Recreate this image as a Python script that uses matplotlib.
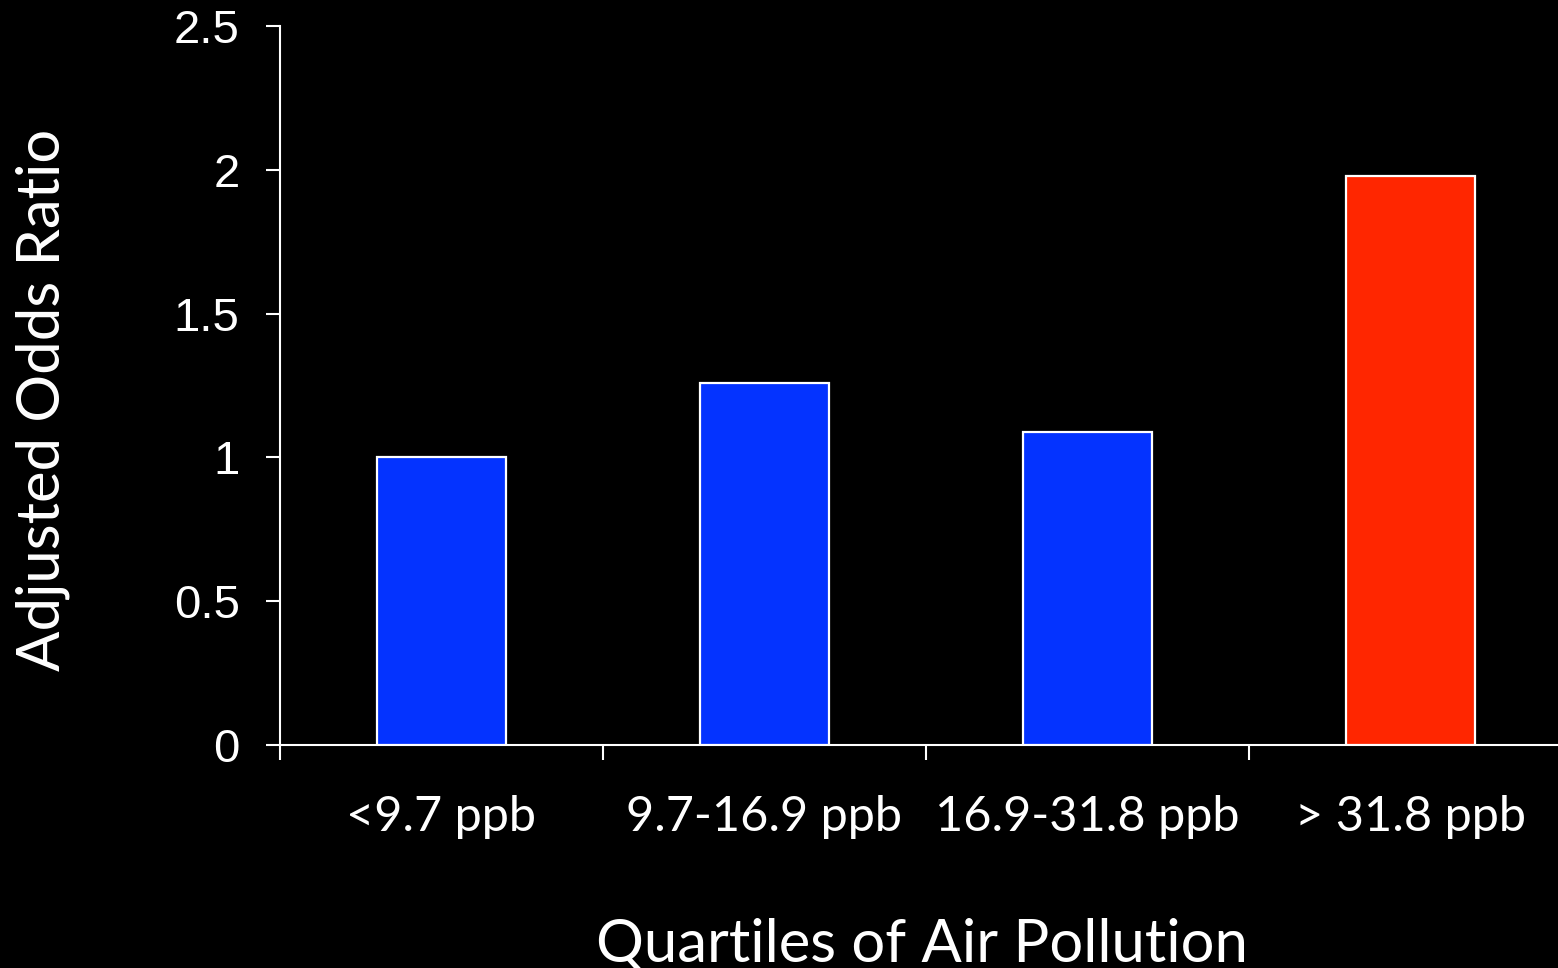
import matplotlib
matplotlib.use("Agg")
import matplotlib.pyplot as plt
import numpy as np

categories = ["<9.7 ppb", "9.7-16.9 ppb", "16.9-31.8 ppb", "> 31.8 ppb"]
odds_ratio = [1.0, 1.26, 1.09, 1.98]
bar_colors = ["#0433FF", "#0433FF", "#0433FF", "#FF2600"]
y_ticks = [0, 0.5, 1, 1.5, 2, 2.5]
y_tick_labels = ["0", "0.5", "1", "1.5", "2", "2.5"]

W, H = 1558, 968
fig = plt.figure(figsize=(W / 100, H / 100), dpi=100, facecolor="black")
left, right, bottom, top = 280, 1572, 745, 26
ax = fig.add_axes([left / W, (H - bottom) / H, (right - left) / W, (bottom - top) / H])
ax.set_facecolor("black")

x = np.arange(len(categories))
ax.bar(x, odds_ratio, width=0.4, color=bar_colors, edgecolor="white", linewidth=1.6, zorder=3)

ax.set_xlim(-0.5, len(categories) - 0.5)
ax.set_ylim(0, 2.5)

for s in ["top", "right"]:
    ax.spines[s].set_visible(False)
for s in ["left", "bottom"]:
    ax.spines[s].set_color("white")
    ax.spines[s].set_linewidth(1.5)

ax.set_yticks(y_ticks)
ax.set_yticklabels(y_tick_labels, fontfamily="Liberation Sans", fontsize=34, color="white")
ax.tick_params(axis="y", direction="out", length=10, width=1.5, color="white", pad=19)

ax.set_xticks(x)
ax.set_xticklabels(categories, fontfamily="Lato", fontsize=35, color="white")
ax.tick_params(axis="x", which="major", length=0, pad=36)
ax.set_xticks(np.arange(-0.5, len(categories), 1.0), minor=True)
ax.tick_params(axis="x", which="minor", direction="out", length=11, width=1.5, color="white")

fig.text(43 / W, 1 - 400 / H, "Adjusted Odds Ratio", rotation=90, ha="center", va="center",
         fontfamily="Lato", fontsize=43, color="white")
fig.text(922 / W, 1 - 944 / H, "Quartiles of Air Pollution", ha="center", va="center",
         fontfamily="Lato", fontsize=43, color="white")

fig.savefig("out.png", dpi=100, facecolor="black")
